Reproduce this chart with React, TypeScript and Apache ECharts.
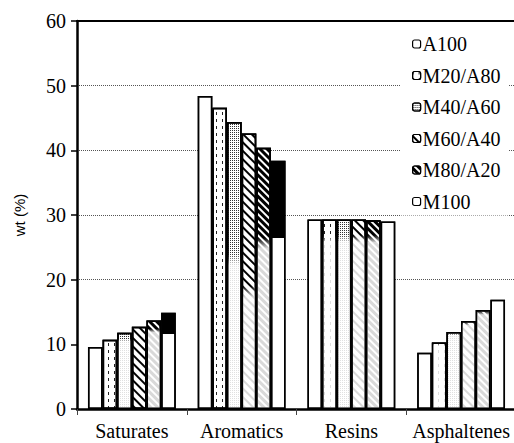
import React, { useEffect, useRef } from "react";
import * as echarts from "echarts";

const categories = ["Saturates", "Aromatics", "Resins", "Asphaltenes"];
const seriesNames = ["A100", "M20/A80", "M40/A60", "M60/A40", "M80/A20", "M100"];
const a100 = [9.6, 48.4, 29.3, 8.7];
const m20a80 = [10.7, 46.6, 29.3, 10.3];
const m40a60 = [11.8, 44.4, 29.3, 11.9];
const m60a40 = [12.7, 42.6, 29.3, 13.6];
const m80a20 = [13.7, 40.4, 29.2, 15.3];
const m100 = [14.9, 38.4, 29.0, 16.9];
const yTicks = [0, 10, 20, 30, 40, 50, 60];

// level (wt %) below which each bar's fill pattern fades out in the print
const fadeA100 = [0, 0, 0, 0];
const fadeM20 = [0, 0, 27, 99];
const fadeM40 = [11, 24, 27, 99];
const fadeM60 = [0, 19, 27, 99];
const fadeM80 = [12.5, 26.5, 27, 99];
const fadeM100 = [0, 0, 0, 0];
// lower bound of the dark band printed on the M100 bars
const m100DarkTo = [11.6, 26.5, null, null];

const values = [a100, m20a80, m40a60, m60a40, m80a20, m100];
const fades = [fadeA100, fadeM20, fadeM40, fadeM60, fadeM80, fadeM100];

const decals: any[] = [
  null,
  { symbol: "rect", symbolSize: 1, color: "#222", dashArrayX: [1, 5], dashArrayY: [3, 4] },
  { symbol: "rect", symbolSize: 1, color: "#333", dashArrayX: [1, 1], dashArrayY: [1, 1] },
  { symbol: "rect", symbolSize: 1, color: "#000", dashArrayX: [1, 0], dashArrayY: [2, 4], rotation: Math.PI / 4 },
  { symbol: "rect", symbolSize: 1, color: "#000", dashArrayX: [1, 0], dashArrayY: [3, 2], rotation: Math.PI / 4 },
  null,
];

const serif = "Times New Roman, serif";
const sans = "Arial, sans-serif";

export default function App() {
  const ref = useRef<HTMLDivElement>(null);
  useEffect(() => {
    if (!ref.current) return;
    const chart = echarts.init(ref.current, null, { renderer: "svg" });

    const mainSeries = seriesNames.map((name, si) => ({
      name,
      type: "bar",
      xAxisIndex: 0,
      yAxisIndex: 0,
      barGap: "0%",
      barCategoryGap: "20%",
      itemStyle: {
        color: "#fff",
        borderColor: "#000",
        borderWidth: 1.5,
        decal: decals[si] || undefined,
      },
      data: values[si].map((v, ci) => {
        if (si === 5 && m100DarkTo[ci] != null) {
          const f = (v - (m100DarkTo[ci] as number)) / v;
          return {
            value: v,
            itemStyle: {
              color: {
                type: "linear", x: 0, y: 0, x2: 0, y2: 1,
                colorStops: [
                  { offset: 0, color: "#000" },
                  { offset: f, color: "#000" },
                  { offset: f, color: "#fff" },
                  { offset: 1, color: "#fff" },
                ],
              },
            },
          };
        }
        return v;
      }),
    }));

    const overlaySeries = seriesNames.map((name, si) => ({
      name: "__ov" + si,
      type: "bar",
      xAxisIndex: 1,
      yAxisIndex: 0,
      barGap: "0%",
      barCategoryGap: "20%",
      silent: true,
      z: 3,
      data: values[si].map((v, ci) => {
        const L = fades[si][ci];
        let color: any = "rgba(255,255,255,0)";
        if (L > 0) {
          const f = Math.max(0, Math.min(1, (v - L) / v));
          const f2 = Math.min(1, f + 0.04);
          color = {
            type: "linear", x: 0, y: 0, x2: 0, y2: 1,
            colorStops: [
              { offset: 0, color: "rgba(255,255,255,0)" },
              { offset: f, color: "rgba(255,255,255,0)" },
              { offset: f2, color: "rgba(255,255,255,0.85)" },
              { offset: 1, color: "rgba(255,255,255,0.85)" },
            ],
          };
        }
        return {
          value: v,
          itemStyle: { color, borderColor: "#000", borderWidth: 1.5 },
        };
      }),
    }));

    chart.setOption({
      animation: false,
      backgroundColor: "#fff",
      grid: {
        left: 77,
        top: 21,
        width: 439,
        height: 388,
        containLabel: false,
        outerBoundsMode: "none",
      },
      legend: {
        data: seriesNames,
        orient: "vertical",
        left: 400,
        top: 30,
        padding: [4, 8, 4, 12],
        backgroundColor: "#fff",
        itemWidth: 8,
        itemHeight: 8,
        itemGap: 11.5,
        itemStyle: { borderColor: "#000", borderWidth: 1.2 },
        textStyle: { fontFamily: serif, fontSize: 20, color: "#000", padding: [0, 0, 0, -3] },
        selectedMode: false,
      },
      xAxis: [
        {
          type: "category",
          data: categories,
          position: "bottom",
          axisLine: { show: true, lineStyle: { color: "#000", width: 2.5 } },
          axisTick: { show: true, length: 6, lineStyle: { color: "#444", width: 1 } },
          axisLabel: { fontFamily: serif, fontSize: 20, color: "#000", margin: 12, interval: 0, hideOverlap: false },
          splitLine: { show: false },
        },
        {
          type: "category",
          data: categories,
          position: "top",
          axisLine: { show: true, lineStyle: { color: "#000", width: 2 } },
          axisTick: { show: false },
          axisLabel: { show: false },
          splitLine: { show: false },
        },
      ],
      yAxis: {
        type: "value",
        min: yTicks[0],
        max: yTicks[yTicks.length - 1],
        interval: 10,
        name: "wt (%)",
        nameLocation: "middle",
        nameGap: 50,
        nameRotate: 90,
        nameTextStyle: { fontFamily: sans, fontSize: 15, color: "#000" },
        axisLine: { show: true, lineStyle: { color: "#000", width: 2.5 } },
        axisTick: { show: true, length: 6, lineStyle: { color: "#000", width: 1.5 } },
        axisLabel: { fontFamily: serif, fontSize: 20, color: "#000", margin: 11 },
        splitLine: {
          show: true,
          lineStyle: {
            type: "dotted",
            width: 1,
            color: ["rgba(0,0,0,0)", "rgba(0,0,0,0)", "#555", "#555", "#555", "#555", "rgba(0,0,0,0)"],
          },
        },
      },
      series: [...mainSeries, ...overlaySeries],
    });
    return () => chart.dispose();
  }, []);
  return (
    <div
      ref={ref}
      style={{ position: "fixed", left: 0, top: 0, width: 514, height: 443, background: "#fff" }}
    />
  );
}
